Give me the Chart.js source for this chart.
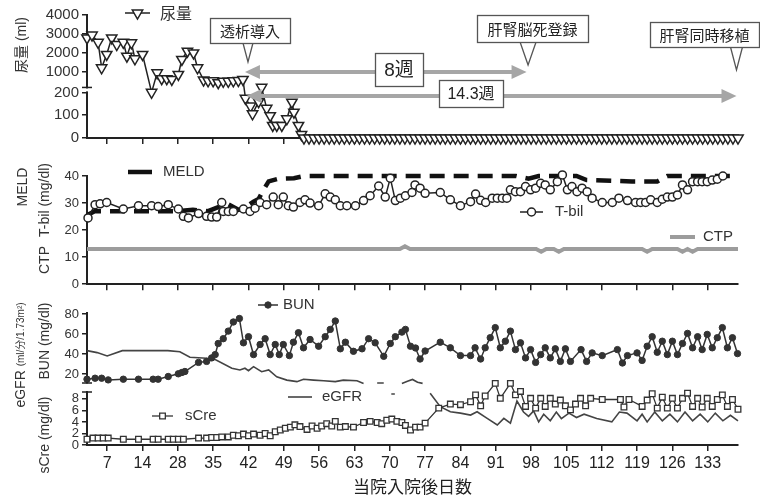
<!DOCTYPE html>
<html>
<head>
<meta charset="utf-8">
<script src="https://cdn.jsdelivr.net/npm/chart.js@4.4.0/dist/chart.umd.min.js"></script>
<style>
html, body { margin: 0; padding: 0; background: #fff; }
canvas { display: block; }
</style>
</head>
<body>
<canvas id="urineChart" width="760" height="150"></canvas>
<canvas id="liverChart" width="760" height="145"></canvas>
<canvas id="kidneyChart" width="760" height="203"></canvas>
<script>
// x axis: tick positions (days) and the labels printed under them
const tickDays = [7, 14, 21, 28, 35, 42, 49, 56, 63, 70, 77, 84, 91, 98, 105, 112, 119, 126];
const tickLabels = ['7', '14', '28', '35', '42', '49', '56', '63', '70', '77', '84', '91', '98', '105', '112', '119', '126', '133'];

// urine volume (ml)
const urineDay = [3, 4, 5.2, 5.9, 6.9, 7.9, 8.9, 10.2, 10.9, 11.8, 12.5, 14, 15.8, 16.9, 17.8, 18.8, 19.8, 21.1, 21.8, 22.9,
  24.1, 24.9, 26.1, 27, 28, 29, 30, 31, 32, 33, 33.9, 34.4, 35.4, 35.8, 37, 37.6, 38.6, 39.3, 39.8, 40.6,
  41.6, 42.6, 43.6, 44, 44.9, 45.5,
  46, 47, 48, 49, 50, 51, 52, 53, 54, 55, 56, 57, 58, 59, 60, 61, 62, 63, 64, 65, 66, 67, 68, 69, 70, 71, 72, 73, 74,
  75, 76, 77, 78, 79, 80, 81, 82, 83, 84, 85, 86, 87, 88, 89, 90, 91, 92, 93, 94, 95, 96, 97, 98, 99, 100, 101, 102, 103,
  104, 105, 106, 107, 108, 109, 110, 111, 112, 113, 114, 115, 116, 117, 118, 119, 120, 121, 122, 123, 124, 125, 126, 127, 128, 129, 130, 131, 132];
const urine = [2800, 2950, 2570, 1230, 1930, 2800, 2450, 2570, 1840, 2540, 1700, 1930, 200, 970, 660, 660, 620, 880, 1670, 2100,
  2010, 1230, 590, 550, 550, 450, 520, 520, 550, 560, 620, 174, 140, 106, 159, 205, 130, 98, 55, 55,
  55, 84, 157, 113, 55, 15,
  0, 0, 0, 0, 0, 0, 0, 0, 0, 0, 0, 0, 0, 0, 0, 0, 0, 0, 0, 0, 0, 0, 0, 0, 0, 0, 0, 0, 0,
  0, 0, 0, 0, 0, 0, 0, 0, 0, 0, 0, 0, 0, 0, 0, 0, 0, 0, 0, 0, 0, 0, 0, 0, 0, 0, 0, 0, 0,
  0, 0, 0, 0, 0, 0, 0, 0, 0, 0, 0, 0, 0, 0, 0, 0, 0, 0, 0, 0, 0, 0, 0, 0, 0, 0, 0, 0, 0];

// T-bil (mg/dl)
const tbilDay = [3.2, 4.6, 5.6, 6.9, 10.2, 13.2, 15.8, 17.1, 19.1, 21.1, 22.1, 23.1, 25.1, 26.7, 27.7, 28.7, 29.7, 30, 31, 32,
  34, 35.3, 36.3, 37.3, 38.6, 39.9, 40.9, 41.9, 42.9, 43.9, 45.2, 46.2, 47.2, 48.9, 50.2, 51.2, 52.2, 53.2, 54.5, 56.2,
  57.8, 59.1, 60.8, 62.1, 63.1, 64.1, 65.1, 66.1, 67.4, 68, 69, 70, 73, 75, 77, 79, 80, 81, 82, 83.3,
  84.3, 85.3, 86.2, 86.9, 87.9, 88.9, 89.9, 90.9, 91.9, 92.9, 93.8, 94.8, 96.2, 97.2, 98.2, 99.1, 100.1, 101.1, 102.1, 103.1,
  105.1, 107.1, 108.4, 110.1, 111.7, 112.7, 113.7, 114.7, 116, 117, 118, 119, 120, 121, 122, 123, 124, 124.9, 125.9, 126.9,
  127.9, 129];
const tbil = [24.5, 29.4, 29.7, 30.2, 27.8, 29, 29, 28.7, 29.4, 27.8, 25.1, 24.5, 26.1, 25.1, 24.8, 24.8, 30.2, 26.9, 26.9, 26.9,
  27.8, 26.9, 28.1, 30.2, 29.4, 32.2, 29.4, 32.2, 29, 28.5, 30.2, 31.2, 30, 29, 33.4, 32.2, 31.2, 29, 29, 29,
  30.9, 32.7, 36.3, 32.2, 39.2, 30.9, 31.8, 32.7, 33.9, 36.7, 35.5, 33.6, 33.9, 31.2, 29, 30.5, 33.3, 31, 30.2, 31.8,
  31.8, 31.8, 31.8, 34.9, 34.2, 34.2, 36.1, 34.9, 35.5, 37.3, 36.7, 34.9, 37.9, 40.4, 34.9, 36.1, 34.2, 35.5, 34.2, 31.8,
  30.2, 30.2, 31.8, 30.9, 30.2, 30.2, 30.2, 31.2, 30.2, 31.4, 32.2, 32.2, 33, 36.7, 34.9, 37.9, 37.9, 37.9, 37.9, 38.5,
  38.8, 40];

// MELD score
const meldDay = [3, 4.5, 21, 24, 27, 29, 31, 33, 34, 36, 37, 38, 39, 41, 44, 46, 88, 90.5, 92.5, 100, 102, 111, 116, 118, 132];
const meld = [25.5, 27, 27, 27.5, 27, 28.5, 29.5, 27.5, 28, 30.5, 31.5, 35, 38, 39, 39.2, 40, 40, 39, 40, 40, 38.5, 38, 38, 40, 40];

// CTP score
const ctpDay = [3, 65, 66, 67, 92, 93, 94, 95.5, 96.5, 97.5, 113, 114, 115, 120, 121, 122, 123, 124, 132];
const ctp = [13, 13, 14, 13, 13, 12, 13, 13, 12, 13, 13, 12, 13, 13, 12, 13, 12, 13, 13];

// BUN (mg/dl)
const bunDay = [3, 4.6, 5.9, 7.2, 10.2, 13.2, 16.1, 17.1, 19.1, 21.1, 21.8, 22.4, 25.1, 26.7, 27.7, 28.4, 29, 30, 31, 32,
  33.2, 34, 35, 36, 37.3, 38.3, 39.3, 40.3, 41.1, 41.9, 43.1, 43.9, 44.9, 45.9, 47.2, 48.9, 50.2, 51.2, 52.2, 53.2,
  54.2, 55.8, 57.5, 58.8, 60.1, 61.8, 63.1, 64.1, 65.4, 66.1, 67.1, 68.1, 69, 70, 73, 75, 77, 79, 79.9, 81,
  81.9, 82.9, 83.9, 84.9, 85.9, 86.9, 87.9, 88.9, 89.9, 90.9, 91.9, 92.9, 93.8, 94.8, 95.8, 96.8, 97.8, 98.8, 100.9, 102,
  103.1, 105.1, 108.1, 109.1, 110.1, 112, 113, 114, 115, 116, 117, 118, 119, 120, 121, 122, 123, 124, 124.9, 125.9,
  126.9, 127.9, 128.9, 129.9, 130.9, 131.9];
const bun = [14.8, 15.8, 15.8, 14.1, 14.8, 14.8, 14.8, 14.8, 17.5, 20.2, 21.5, 22.5, 31.6, 32.6, 36.1, 39.4, 50.5, 55.3, 62.9, 72,
  75.5, 51.2, 57.3, 39.4, 49.5, 55.3, 39.4, 49.5, 39.4, 49.5, 38.4, 51.8, 61.3, 46.2, 54.5, 47.8, 57.3, 64.6, 73, 45.2,
  51.8, 42.7, 45.2, 55.3, 51.2, 37.7, 50.5, 57.3, 61.9, 64.6, 47.8, 46, 35, 43, 51.8, 46.2, 38.4, 38.4, 46.2, 35,
  46.2, 56.3, 66.4, 46.2, 52.8, 62.9, 44.4, 51.2, 36.1, 44.4, 31.6, 39.4, 46.2, 36.1, 45.2, 32.6, 45.2, 32.6, 44.4, 32.6,
  41.1, 38.4, 44.4, 31, 38.4, 41.1, 33.6, 47.8, 57.3, 41.7, 52.8, 39.4, 52.8, 39.4, 50.5, 60.6, 46.2, 57.3, 44.4, 59.6,
  46.2, 56.3, 66.4, 46.2, 56.3, 40.4];

// serum creatinine (mg/dl)
const creDay = [3, 4.2, 5.2, 6.2, 7.2, 10.2, 13.2, 16.1, 17.1, 19.1, 20.1, 21.1, 22.1, 25.1, 26.7, 27.7, 28.7, 29.7, 31, 32,
  33, 34, 35, 36, 37.3, 38.3, 39.3, 40.3, 41.3, 42.3, 43.3, 44.2, 45.2, 46.6, 47.6, 48.6, 49.5, 50.5, 51.5, 52.2,
  53.2, 54.2, 55.8, 57.8, 59.1, 60.5, 61.4, 62.4, 63.4, 64.4, 65.4, 66.1, 67.1, 68.1, 69, 70, 72.7, 75, 77, 79,
  80, 81, 81.9, 83.9, 84.9, 86.9, 87.9, 88.9, 89.9, 90.9, 91.9, 92.9, 93.8, 94.8, 95.8, 96.8, 97.8, 98.8, 99.8, 100.8,
  101.8, 102.8, 105.1, 108.7, 109.4, 110.4, 113, 114, 115, 116, 117, 118, 119, 120, 121, 122, 123, 124, 124.9, 125.9,
  126.9, 127.9, 128.9, 129.9, 130.9, 132];
const cre = [1, 1.2, 1.2, 1.2, 1.2, 1, 1, 1, 1, 1, 1, 1, 1, 1.2, 1.2, 1.3, 1.3, 1.4, 1.4, 1.7,
  1.6, 1.9, 1.6, 1.9, 1.7, 2, 1.6, 2.3, 2.6, 2.9, 3.1, 3.5, 3.2, 2.7, 3.3, 2.9, 3.3, 3.7, 3.3, 4.1,
  3.1, 3.2, 3.1, 3.9, 4.1, 3.9, 3.7, 4.3, 4.5, 4.1, 3.9, 3.4, 2.6, 3.1, 3.1, 3.8, 6.4, 7.1, 7, 7.5,
  8.7, 6.8, 8.5, 10.7, 8.1, 10.7, 8.7, 9.3, 6.7, 8.1, 6.4, 8.1, 6.7, 8.1, 7.1, 7.8, 6.8, 6.1, 7.1, 8.1,
  6.8, 8.1, 7.9, 7.9, 6.6, 7.9, 6.7, 7.8, 8.9, 6.4, 8.3, 6.4, 8.1, 6.4, 8.1, 9, 6.7, 8.1, 6.6, 8.1,
  6.7, 7.9, 8.7, 6.7, 7.9, 6.2];

// eGFR (ml/min/1.73m2), null = no line
const egfrDay = [3, 5, 7, 10, 13, 16, 19, 21.4, 23.4, 26.7, 28.4, 31.7, 33.3, 34.3, 35, 36, 37.6, 39, 40.6, 42.6,
  44.6, 45.9, 47.9, 49.9, 52.2, 53.8, 56.5, 57.8, 59, 60.5, 61.8, 62.6, 63.3, 64, 64.7, 65.4, 66.5, 67.5, 68.5, 69.5,
  70.3, 71, 73, 75, 77, 79, 80.3, 82.3, 84.3, 85.6, 86.9, 88.2, 89.5, 90.5, 91.5, 92.5, 93.5, 94.8, 96, 97,
  98.5, 100, 101.5, 104, 107, 108.5, 110, 112, 113, 114, 115.5, 117, 118.5, 120, 121.5, 123, 124.5, 126, 127.5, 129,
  130.5, 132];
const egfr = [42.9, 42, 40.5, 42.9, 42.9, 42.9, 42.9, 42.4, 39.9, 39.4, 38.9, 34.9, 34.1, 34.9, 33.8, 35.6, 33.3, 34.1, 31, 29.5,
  28.8, 29.9, 29.5, 29.2, 28.8, 29.5, 29.2, 28, null, 28.2, 28.2, null, 23.2, 23.2, null, 28, 29, 29.8, 28.5, 28,
  null, 23.5, 17.4, 15.1, 14.5, 13.6, 15.1, 12.1, 9.1, 12.1, 9.9, 20, 15, 13, 15.5, 10.5, 14, 11, 15, 12,
  14.5, 12.5, 14, 12, 10.5, 15, 14.5, 11, 14, 10.5, 15, 11, 14, 10.5, 15, 11, 14, 10.5, 14.5, 11,
  13.5, 11];

const family = "'Liberation Sans', 'Noto Sans CJK JP', sans-serif";
const cjk = "'Noto Sans CJK JP', 'Liberation Sans', sans-serif";
Chart.defaults.font.family = family;
Chart.defaults.color = '#222';

const pts = (xs, ys) => xs.map((x, i) => ({x: x, y: ys[i]}));

// urine axis: 0-200 in the lower part, 200-4000 above a small gap
const urineBreak = {at: 200, low: 0.371, gap: 0.04};
class BrokenScale extends Chart.LinearScale {
  getPixelForValue(value) {
    if (value === null || isNaN(value)) return NaN;
    const b = urineBreak;
    let f;
    if (value <= b.at) f = value / b.at * b.low;
    else f = b.low + b.gap + (value - b.at) / (this.max - b.at) * (1 - b.low - b.gap);
    return this.getPixelForDecimal(f);
  }
}
BrokenScale.id = 'broken';
BrokenScale.defaults = Chart.LinearScale.defaults;
Chart.register(BrokenScale);

function xAxis(height, withLabels) {
  return {
    type: 'linear', position: 'bottom', min: 3, max: 132,
    afterBuildTicks: s => { s.ticks = tickDays.map(v => ({value: v})); },
    afterFit: s => { s.height = height; },
    grid: {display: true, drawOnChartArea: false, drawTicks: true, tickLength: 6, color: '#222', lineWidth: 1.5},
    border: {display: true, color: '#222', width: 2},
    ticks: {display: withLabels, autoSkip: false, maxRotation: 0, padding: 3, font: {size: 16}, color: '#222',
      callback: (v, i) => tickLabels[i]},
    title: {display: withLabels, text: '当院入院後日数', font: {size: 17, family: cjk}, color: '#222', padding: {top: 0, bottom: 1}}
  };
}

function yAxis(min, max, values, size, extra) {
  return Object.assign({
    type: 'linear', position: 'left', min: min, max: max,
    afterBuildTicks: s => { s.ticks = values.map(v => ({value: v})); },
    afterFit: s => { s.width = 87; },
    grid: {display: true, drawOnChartArea: false, drawTicks: true, tickLength: 5, color: '#222', lineWidth: 1.5},
    border: {display: true, color: '#222', width: 2},
    ticks: {padding: 3, autoSkip: false, font: {size: size}, color: '#333', callback: v => String(v)}
  }, extra || {});
}

// extra drawing: rotated axis titles, legends placed in the plot, axis breaks, callouts, arrows
function decor(cfg) {
  return {
    id: 'decor',
    afterDraw(chart) {
      const ctx = chart.ctx;
      const xs = chart.scales.x;
      ctx.save();

      (cfg.breaks || []).forEach(b => {
        const s = chart.scales[b.axis];
        const y1 = s.getPixelForValue(b.at + 0.001), y2 = s.getPixelForValue(b.at);
        ctx.fillStyle = '#fff';
        ctx.fillRect(s.right - 4, y1 + 1, 8, y2 - y1 - 2);
        ctx.strokeStyle = '#222'; ctx.lineWidth = 1.5;
        ctx.beginPath(); ctx.moveTo(s.right - 5, y1); ctx.lineTo(s.right + 5, y1); ctx.stroke();
      });

      (cfg.caps || []).forEach(c => {
        const s = chart.scales[c.axis];
        const y = c.edge === 'top' ? s.top : s.bottom;
        ctx.strokeStyle = '#222'; ctx.lineWidth = 1.5;
        ctx.beginPath(); ctx.moveTo(s.right - 5, y); ctx.lineTo(s.right + 5, y); ctx.stroke();
      });

      (cfg.titles || []).forEach(t => {
        ctx.save();
        ctx.translate(t.x, t.y);
        ctx.rotate(-Math.PI / 2);
        ctx.fillStyle = '#333';
        ctx.textBaseline = 'middle';
        ctx.textAlign = 'left';
        const widths = t.parts.map(p => { ctx.font = p.size + 'px ' + family; return ctx.measureText(p.text).width; });
        let cx = -widths.reduce((a, b) => a + b, 0) / 2;
        t.parts.forEach((p, i) => {
          ctx.font = p.size + 'px ' + family;
          ctx.fillText(p.text, cx, 0);
          cx += widths[i];
        });
        ctx.restore();
      });

      (cfg.legend || []).forEach(l => {
        const ds = chart.data.datasets[l.ds];
        ctx.save();
        ctx.strokeStyle = ds.borderColor; ctx.lineWidth = ds.borderWidth;
        ctx.beginPath(); ctx.moveTo(l.x, l.y); ctx.lineTo(l.x + l.len, l.y); ctx.stroke();
        if (ds.pointRadius > 0) {
          ctx.fillStyle = ds.pointBackgroundColor; ctx.strokeStyle = ds.pointBorderColor;
          ctx.lineWidth = ds.pointBorderWidth;
          Chart.helpers.drawPoint(ctx, {pointStyle: ds.pointStyle, rotation: ds.pointRotation || 0,
            radius: ds.pointRadius, borderWidth: ds.pointBorderWidth}, l.x + l.len / 2, l.y);
        }
        ctx.fillStyle = '#333';
        ctx.font = l.size + 'px ' + (l.cjk ? cjk : family);
        ctx.textBaseline = 'middle';
        ctx.fillText(ds.label, l.x + l.len + l.gap, l.y);
        ctx.restore();
      });

      (cfg.arrows || []).forEach(a => {
        const x1 = xs.getPixelForValue(a.from), x2 = xs.getPixelForValue(a.to);
        ctx.strokeStyle = '#a6a6a6'; ctx.fillStyle = '#a6a6a6'; ctx.lineWidth = 4;
        ctx.beginPath(); ctx.moveTo(x1 + 10, a.y); ctx.lineTo(x2 - 10, a.y); ctx.stroke();
        [[x1, 1], [x2, -1]].forEach(h => {
          ctx.beginPath();
          ctx.moveTo(h[0], a.y);
          ctx.lineTo(h[0] + h[1] * 15, a.y - 7);
          ctx.lineTo(h[0] + h[1] * 15, a.y + 7);
          ctx.closePath(); ctx.fill();
        });
        const [bx, by, bw, bh] = a.box;
        ctx.fillStyle = '#fff'; ctx.strokeStyle = '#555'; ctx.lineWidth = 1.3;
        ctx.fillRect(bx, by, bw, bh); ctx.strokeRect(bx + 0.5, by + 0.5, bw, bh);
        ctx.fillStyle = '#222'; ctx.font = a.size + 'px ' + family;
        ctx.textAlign = 'center'; ctx.textBaseline = 'middle';
        ctx.fillText(a.text, bx + bw / 2, by + bh / 2 + 1);
      });

      (cfg.callouts || []).forEach(c => {
        const tx = xs.getPixelForValue(c.day);
        const [bx, by, bw, bh] = c.box;
        ctx.fillStyle = '#fff'; ctx.strokeStyle = '#555'; ctx.lineWidth = 1.3;
        ctx.beginPath();
        ctx.moveTo(tx - c.half, by + bh); ctx.lineTo(tx, c.tipY); ctx.lineTo(tx + c.half, by + bh);
        ctx.fill(); ctx.stroke();
        ctx.fillRect(bx, by, bw, bh); ctx.strokeRect(bx + 0.5, by + 0.5, bw, bh);
        ctx.fillStyle = '#222'; ctx.font = '15px ' + cjk;
        ctx.textAlign = 'center'; ctx.textBaseline = 'middle';
        ctx.fillText(c.text, bx + bw / 2, by + bh / 2 + 1);
      });

      ctx.restore();
    }
  };
}

const common = {
  responsive: false,
  animation: false,
  events: [],
  plugins: {legend: {display: false}, tooltip: {enabled: false}}
};

// top panel: urine volume
const urineSet = {
  label: '尿量', data: pts(urineDay, urine), yAxisID: 'y', clip: false, tension: 0,
  borderColor: '#222', borderWidth: 1.5,
  pointStyle: 'triangle', pointRotation: 180, pointRadius: 6,
  pointBackgroundColor: '#fff', pointBorderColor: '#222', pointBorderWidth: 1.5
};
new Chart(document.getElementById('urineChart'), {
  type: 'line',
  data: {datasets: [urineSet]},
  options: Object.assign({}, common, {
    layout: {padding: {top: 15, right: 22, left: 0, bottom: 0}},
    scales: {
      x: xAxis(11, false),
      y: yAxis(0, 4000, [0, 100, 200, 1000, 2000, 3000, 4000], 15, {type: 'broken'})
    }
  }),
  plugins: [decor({
    breaks: [{axis: 'y', at: 200}],
    titles: [{x: 22, y: 45, parts: [{text: '尿量 (ml)', size: 14}]}],
    legend: [{ds: 0, x: 125, y: 13, len: 25, gap: 10, size: 16, cjk: true}],
    arrows: [
      {from: 34.3, to: 90.1, y: 72, text: '8週', box: [375, 53, 48, 33], size: 19},
      {from: 34.6, to: 131.7, y: 96, text: '14.3週', box: [439, 80, 64, 27], size: 16}
    ],
    callouts: [
      {text: '透析導入', day: 34.9, box: [210, 18, 80, 25], tipY: 62, half: 5},
      {text: '肝腎脳死登録', day: 90.4, box: [477, 15, 111, 27], tipY: 65, half: 8},
      {text: '肝腎同時移植', day: 131.7, box: [650, 22, 109, 25], tipY: 70, half: 6}
    ]
  })]
});

// middle panel: T-bil, MELD, CTP
const tbilSet = {
  label: 'T-bil', data: pts(tbilDay, tbil), clip: false, tension: 0,
  borderColor: '#222', borderWidth: 1.5,
  pointStyle: 'circle', pointRadius: 4, pointBackgroundColor: '#fff', pointBorderColor: '#222', pointBorderWidth: 1.5
};
const meldSet = {
  label: 'MELD', data: pts(meldDay, meld), clip: false, tension: 0,
  borderColor: '#111', borderWidth: 4.5, borderDash: [15, 9], pointRadius: 0
};
const ctpSet = {
  label: 'CTP', data: pts(ctpDay, ctp), clip: false, tension: 0,
  borderColor: '#9c9c9c', borderWidth: 4, pointRadius: 0
};
new Chart(document.getElementById('liverChart'), {
  type: 'line',
  data: {datasets: [tbilSet, meldSet, ctpSet]},
  options: Object.assign({}, common, {
    layout: {padding: {top: 26, right: 22, left: 0, bottom: 0}},
    scales: {
      x: xAxis(10, false),
      y: yAxis(0, 40, [0, 10, 20, 30, 40], 13)
    }
  }),
  plugins: [decor({
    titles: [
      {x: 23, y: 37, parts: [{text: 'MELD', size: 14}]},
      {x: 45, y: 50, parts: [{text: 'T-bil (mg/dl)', size: 14}]},
      {x: 45, y: 110, parts: [{text: 'CTP', size: 14}]}
    ],
    legend: [
      {ds: 1, x: 128, y: 22, len: 24, gap: 11, size: 15},
      {ds: 0, x: 520, y: 62, len: 23, gap: 12, size: 15},
      {ds: 2, x: 670, y: 87, len: 25, gap: 8, size: 15}
    ]
  })]
});

// bottom panel: BUN, sCre, eGFR
const bunSet = {
  label: 'BUN', data: pts(bunDay, bun), yAxisID: 'yBun', clip: false, tension: 0,
  borderColor: '#333', borderWidth: 1.5,
  pointStyle: 'circle', pointRadius: 3.2, pointBackgroundColor: '#333', pointBorderColor: '#333', pointBorderWidth: 1
};
const creSet = {
  label: 'sCre', data: pts(creDay, cre), yAxisID: 'yCre', clip: false, tension: 0,
  borderColor: '#333', borderWidth: 1.3,
  pointStyle: 'rect', pointRadius: 4, pointBackgroundColor: '#fff', pointBorderColor: '#333', pointBorderWidth: 1.3
};
const egfrSet = {
  label: 'eGFR', data: pts(egfrDay, egfr), yAxisID: 'yEgfr', clip: false, tension: 0, spanGaps: false,
  borderColor: '#444', borderWidth: 1.6, pointRadius: 0
};
new Chart(document.getElementById('kidneyChart'), {
  type: 'line',
  data: {datasets: [bunSet, creSet, egfrSet]},
  options: Object.assign({}, common, {
    layout: {padding: {top: 18, right: 22, left: 0, bottom: 0}},
    scales: {
      x: xAxis(53, true),
      yBun: yAxis(11, 81, [20, 40, 60, 80], 13, {stack: 'kidney', stackWeight: 70, weight: 3}),
      yGap: {type: 'linear', display: false, position: 'left', stack: 'kidney', stackWeight: 9, weight: 2, min: 0, max: 1,
        afterFit: s => { s.width = 87; }},
      yCre: yAxis(0, 9.2, [0, 2, 4, 6, 8], 13, {stack: 'kidney', stackWeight: 53, weight: 1}),
      yEgfr: {type: 'linear', display: false, position: 'right', min: 0, max: 60}
    }
  }),
  plugins: [decor({
    caps: [{axis: 'yBun', edge: 'bottom'}, {axis: 'yCre', edge: 'top'}],
    titles: [
      {x: 21, y: 60, parts: [{text: 'eGFR ', size: 14}, {text: '(ml/分/1.73m²)', size: 10}]},
      {x: 45, y: 46, parts: [{text: 'BUN (mg/dl)', size: 14}]},
      {x: 45, y: 140, parts: [{text: 'sCre (mg/dl)', size: 14}]}
    ],
    legend: [
      {ds: 0, x: 258, y: 10, len: 20, gap: 5, size: 15},
      {ds: 2, x: 288, y: 102, len: 24, gap: 10, size: 15},
      {ds: 1, x: 152, y: 121, len: 21, gap: 12, size: 15}
    ]
  })]
});
</script>
</body>
</html>
